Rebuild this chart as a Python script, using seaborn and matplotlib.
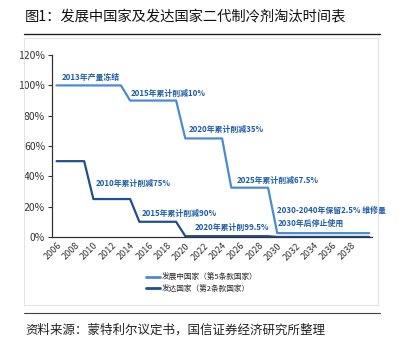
import pandas as pd
import matplotlib.pyplot as plt
import seaborn as sns
from matplotlib.patches import Rectangle
from matplotlib.lines import Line2D

# Data
years = list(range(2006, 2041))
developing = [100, 100, 100, 100, 100, 100, 100, 100,
              90, 90, 90, 90, 90, 90,
              65, 65, 65, 65, 65,
              32.5, 32.5, 32.5, 32.5, 32.5,
              2.5, 2.5, 2.5, 2.5, 2.5, 2.5, 2.5, 2.5, 2.5, 2.5, 2.5]
developed = [50, 50, 50, 50,
             25, 25, 25, 25, 25,
             10, 10, 10, 10, 10,
             0.5, 0.5, 0.5, 0.5, 0.5, 0.5, 0.5, 0.5, 0.5, 0.5,
             0, 0, 0, 0, 0, 0, 0, 0, 0, 0, 0]
series_names = ['发展中国家（第5条款国家）', '发达国家（第2条款国家）']
xtick_years = list(range(2006, 2039, 2))
yticks = [0, 20, 40, 60, 80, 100, 120]

notes = [
    (2006.6, 105, '2013年产量冻结'),
    (2014.1, 95, '2015年累计削减10%'),
    (2020.4, 71, '2020年累计削减35%'),
    (2025.6, 37, '2025年累计削减67.5%'),
    (2030.0, 17.5, '2030-2040年保留2.5% 维修量'),
    (2030.0, 9, '2030年后停止使用'),
    (2010.3, 35, '2010年累计削减75%'),
    (2015.3, 15.5, '2015年累计削减90%'),
    (2021.0, 6, '2020年累计削99.5%'),
]

df = pd.DataFrame({
    'year': years * 2,
    'value': developing + developed,
    'series': [series_names[0]] * len(years) + [series_names[1]] * len(years),
})

sns.set_style('white')
plt.rcParams['font.family'] = ['Noto Sans CJK SC', 'DejaVu Sans']

fig = plt.figure(figsize=(4.03, 3.51), dpi=100)
ax = fig.add_axes([0.129, 0.325, 0.794, 0.518])

colors = {series_names[0]: '#4a8bd2', series_names[1]: '#1f4f8f'}
sns.lineplot(data=df, x='year', y='value', hue='series', palette=colors,
             linewidth=1.6, ax=ax, legend=False)

ax.set_xlim(2005.5, 2040.3)
ax.set_ylim(0, 120)
ax.set_xticks(xtick_years)
ax.set_xticklabels([str(y) for y in xtick_years], rotation=45, ha='right',
                   rotation_mode='anchor', fontsize=6.5, color='#333333')
ax.set_yticks(yticks)
ax.set_yticklabels([f'{v}%' for v in yticks], fontsize=7.5, color='#333333')
ax.tick_params(axis='y', length=3, width=0.8, color='#333333', left=True, pad=2)
ax.tick_params(axis='x', length=0, pad=3)
ax.set_xlabel('')
ax.set_ylabel('')
sns.despine(ax=ax)
for s in ['left', 'bottom']:
    ax.spines[s].set_color('#333333')
    ax.spines[s].set_linewidth(0.9)

for x, y, t in notes:
    ax.text(x, y, t, fontsize=5.7, fontweight='bold', color='#1d5ca8',
            va='center', ha='left')

handles = [Line2D([], [], color=colors[n], linewidth=2) for n in series_names]
fig.legend(handles, series_names, loc='center left',
           bbox_to_anchor=(0.345, 0.193), frameon=False, fontsize=5.5,
           handlelength=1.8, handletextpad=0.3, labelspacing=0.35)

# frame, title and source
fig.patches.append(Rectangle((24 / 403, 1 - 305 / 351), 354 / 403, 267 / 351,
                             transform=fig.transFigure, fill=False,
                             edgecolor='#e4e4e4', linewidth=0.8))
fig.text(25 / 403, 1 - 16 / 351, '图1：发展中国家及发达国家二代制冷剂淘汰时间表',
         fontsize=10.3, va='center', ha='left', color='#111111')
fig.add_artist(Line2D([24 / 403, 380 / 403], [1 - 34 / 351, 1 - 34 / 351],
                      transform=fig.transFigure, color='#222222', linewidth=1))
fig.add_artist(Line2D([24 / 403, 380 / 403], [1 - 313 / 351, 1 - 313 / 351],
                      transform=fig.transFigure, color='#444444', linewidth=0.8))
fig.text(25 / 403, 1 - 330 / 351, '资料来源：蒙特利尔议定书，国信证券经济研究所整理',
         fontsize=9.0, va='center', ha='left', color='#222222')

fig.savefig('out.png', dpi=100)
